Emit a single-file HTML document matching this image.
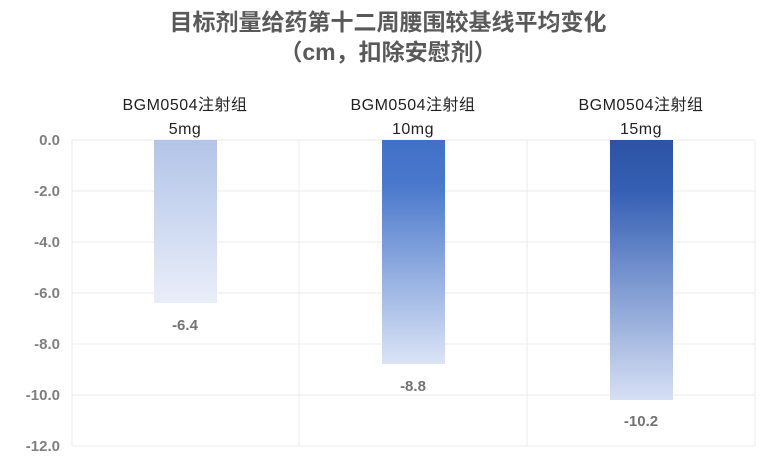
<!DOCTYPE html><html><head><meta charset="utf-8"><style>
body{margin:0;background:#fff;width:777px;height:471px;overflow:hidden;font-family:"Liberation Sans","Noto Sans CJK SC",sans-serif}
</style></head><body>
<svg width="777" height="471" xmlns="http://www.w3.org/2000/svg" font-family="Liberation Sans, Noto Sans CJK SC, sans-serif">
<defs>
<linearGradient id="g1" x1="0" y1="0" x2="0" y2="1"><stop offset="0" stop-color="#b2c4e8"/><stop offset="1" stop-color="#e9eef9"/></linearGradient>
<linearGradient id="g2" x1="0" y1="0" x2="0" y2="1"><stop offset="0" stop-color="#4170c8"/><stop offset="0.2" stop-color="#4a78cc"/><stop offset="1" stop-color="#dbe4f5"/></linearGradient>
<linearGradient id="g3" x1="0" y1="0" x2="0" y2="1"><stop offset="0" stop-color="#2c53a4"/><stop offset="0.2" stop-color="#3560b4"/><stop offset="1" stop-color="#d6e0f4"/></linearGradient>
</defs>
<text x="388" y="30" text-anchor="middle" font-size="23" font-weight="bold" fill="#595959">目标剂量给药第十二周腰围较基线平均变化</text>
<text x="388" y="60" text-anchor="middle" font-size="23" font-weight="bold" fill="#595959">（cm，扣除安慰剂）</text>
<g stroke="#ebebeb" stroke-width="1">
<line x1="72" y1="140" x2="755" y2="140"/><line x1="72" y1="191" x2="755" y2="191"/><line x1="72" y1="242" x2="755" y2="242"/><line x1="72" y1="293" x2="755" y2="293"/><line x1="72" y1="344" x2="755" y2="344"/><line x1="72" y1="395" x2="755" y2="395"/><line x1="72" y1="446" x2="755" y2="446"/>
<line x1="72" y1="140" x2="72" y2="446"/><line x1="299" y1="140" x2="299" y2="446"/><line x1="527" y1="140" x2="527" y2="446"/><line x1="755" y1="140" x2="755" y2="446"/>
</g>
<g font-size="15" font-weight="bold" fill="#7f7f7f" text-anchor="end">
<text x="60" y="145">0.0</text><text x="60" y="196">-2.0</text><text x="60" y="247">-4.0</text><text x="60" y="298">-6.0</text><text x="60" y="349">-8.0</text><text x="60" y="400">-10.0</text><text x="60" y="451">-12.0</text>
</g>
<rect x="154" y="140" width="63" height="163" fill="url(#g1)"/>
<rect x="382" y="140" width="63" height="224" fill="url(#g2)"/>
<rect x="610" y="140" width="63" height="260" fill="url(#g3)"/>
<g font-size="15" font-weight="bold" fill="#737373" text-anchor="middle">
<text x="185" y="330">-6.4</text><text x="413" y="391">-8.8</text><text x="641" y="426">-10.2</text>
</g>
<g font-size="16" fill="#222" text-anchor="middle" letter-spacing="0.5">
<text x="185" y="110">BGM0504注射组</text><text x="185" y="134">5mg</text>
<text x="413" y="110">BGM0504注射组</text><text x="413" y="134">10mg</text>
<text x="641" y="110">BGM0504注射组</text><text x="641" y="134">15mg</text>
</g>
</svg>
</body></html>
